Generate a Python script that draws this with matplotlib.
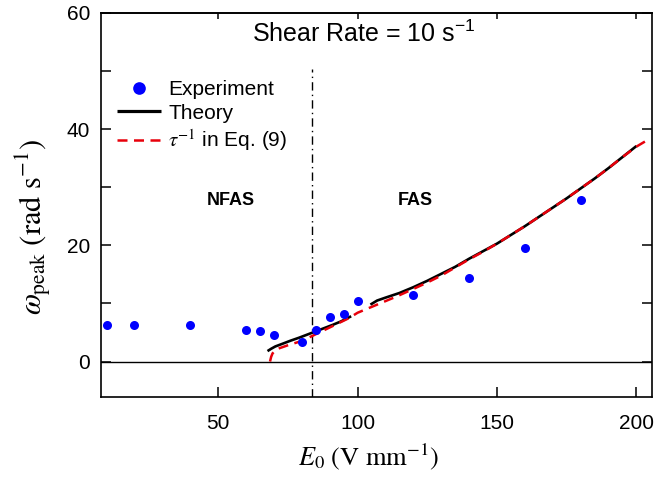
import matplotlib
matplotlib.use("Agg")
import matplotlib.pyplot as plt

plt.rcParams['font.family'] = ['Liberation Sans', 'DejaVu Sans']
plt.rcParams['mathtext.fontset'] = 'custom'
plt.rcParams['mathtext.rm'] = 'Liberation Sans'
plt.rcParams['mathtext.it'] = 'Liberation Sans:italic'
plt.rcParams['mathtext.bf'] = 'Liberation Sans:bold'

# Measured peak frequencies
exp_E = [10, 20, 40, 60, 65, 70, 80, 85, 90, 95, 100, 120, 140, 160, 180]
exp_w = [6.3, 6.3, 6.3, 5.35, 5.2, 4.6, 3.4, 5.35, 7.6, 8.1, 10.5, 11.4, 14.4, 19.6, 27.8]

# Theory, NFAS branch
th1_E = [67.7, 69, 70.5, 73, 76, 79, 82, 85, 88, 91, 94, 97.7]
th1_w = [1.8, 2.2, 2.6, 3.05, 3.6, 4.1, 4.65, 5.2, 5.75, 6.3, 6.9, 7.8]

# Theory, FAS branch
th2_E = [104.6, 107, 110, 115, 120, 125, 130, 135, 140, 145, 150, 155,
         160, 165, 170, 175, 180, 185, 190, 195, 200]
th2_w = [9.8, 10.5, 11.0, 11.8, 12.8, 13.9, 15.1, 16.3, 17.7, 19.0, 20.3, 21.8,
         23.3, 24.9, 26.5, 28.1, 29.8, 31.5, 33.3, 35.2, 37.1]

# Inverse relaxation time, Eq. (9)
tau_E = [68.6, 69.0, 69.5, 70.5, 72, 75, 79, 82, 85, 88, 91, 94, 97, 100,
         103, 106, 110, 114, 120, 125, 130, 135, 140, 145, 150, 155, 160,
         165, 170, 175, 180, 185, 190, 195, 200, 203.5]
tau_w = [0.0, 0.8, 1.4, 1.9, 2.3, 2.8, 3.4, 4.0, 4.7, 5.4, 6.1, 6.8, 7.5, 8.4,
         9.0, 9.6, 10.4, 11.2, 12.5, 13.6, 14.8, 16.2, 17.6, 18.9, 20.3, 21.8,
         23.3, 24.9, 26.5, 28.1, 29.8, 31.5, 33.3, 35.2, 37.0, 38.0]

boundary_E = 83.5
boundary_top = 50.3

x_ticks = [50, 100, 150, 200]
y_major = [0, 20, 40, 60]
y_minor = [10, 30, 50]

fig = plt.figure(figsize=(6.56, 4.79), dpi=100)
ax = fig.add_axes([0.154, 0.1712, 0.840, 0.8017])

ax.set_xlim(8, 205.6)
ax.set_ylim(-6.1, 60)

ax.axhline(0, color='black', lw=1.0, zorder=1)
ax.vlines(boundary_E, -6.1, boundary_top, colors='black', lw=1.0,
          linestyles=(0, (6, 3, 1, 3)), zorder=1)

ax.plot(exp_E, exp_w, 'o', color='#0000ff', ms=6.5, mec='none',
        label='Experiment', zorder=4)
ax.plot(th1_E, th1_w, color='black', lw=1.9, label='Theory', zorder=2,
        solid_capstyle='butt')
ax.plot(th2_E, th2_w, color='black', lw=1.9, zorder=2, solid_capstyle='butt')
ax.plot(tau_E, tau_w, color='#e8000b', lw=1.8, dashes=(4, 2.6),
        label=r'$\tau^{-1}$ in Eq. (9)', zorder=3)

ax.text(0.274, 0.924, r'Shear Rate = 10 s$^{-1}$', transform=ax.transAxes,
        fontsize=18, ha='left', va='baseline')
ax.text(0.192, 0.5, 'NFAS', transform=ax.transAxes, fontsize=13,
        fontweight='bold', ha='left', va='baseline')
ax.text(0.539, 0.5, 'FAS', transform=ax.transAxes, fontsize=13,
        fontweight='bold', ha='left', va='baseline')

ax.set_xticks(x_ticks)
ax.set_yticks(y_major)
ax.set_yticks(y_minor, minor=True)
ax.tick_params(axis='x', which='major', direction='in', length=7.5, width=1.1,
               labelsize=15, pad=12, top=False)
ax.tick_params(axis='y', which='both', direction='in', length=7.5, width=1.1,
               labelsize=15, pad=8, left=True, right=True)

top = ax.secondary_xaxis('top')
top.set_xticks(x_ticks)
top.tick_params(direction='in', length=4, width=1.1, labeltop=False)
top.spines['top'].set_linewidth(1.2)

for s in ax.spines.values():
    s.set_linewidth(1.2)

xl = ax.set_xlabel(r'$E_0\ (\mathrm{V\ mm^{-1}})$', fontsize=19)
xl.set_math_fontfamily('stix')
ax.xaxis.set_label_coords(0.485, -0.115)
yl = ax.set_ylabel(r'$\omega_{\mathrm{peak}}\ \left(\mathrm{rad\ s^{-1}}\right)$',
                   fontsize=22)
yl.set_math_fontfamily('stix')
ax.yaxis.set_label_coords(-0.088, 0.444)

leg = ax.legend(loc='upper left', bbox_to_anchor=(0.029, 0.825), frameon=False,
                fontsize=15, handlelength=2.1, handletextpad=0.35,
                labelspacing=0.22, borderpad=0, borderaxespad=0,
                markerscale=1.4)
for line in leg.get_lines():
    if line.get_color() == 'black':
        line.set_linewidth(2.3)
for t in leg.get_texts():
    t.set_math_fontfamily('stix')

fig.savefig('out.png', dpi=100)
